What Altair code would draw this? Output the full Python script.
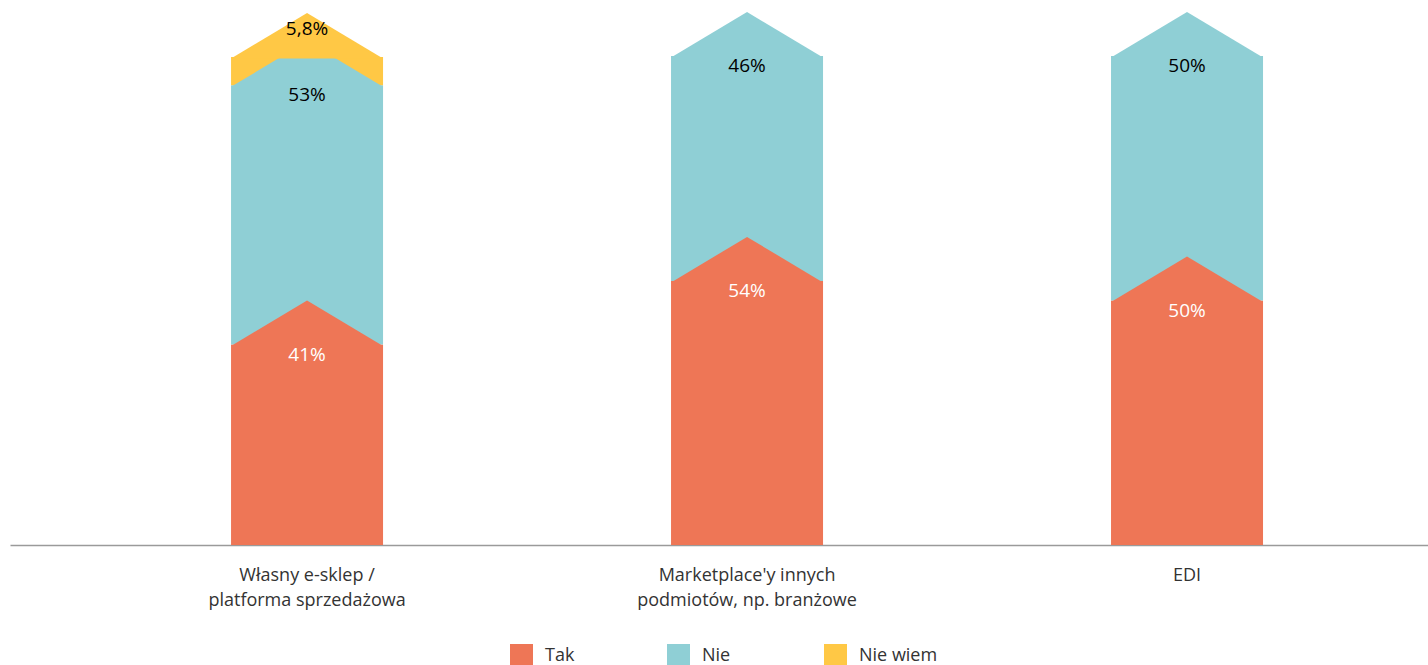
import altair as alt
import pandas as pd

categories = [
    "Własny e-sklep /\nplatforma sprzedażowa",
    "Marketplace'y innych\npodmiotów, np. branżowe",
    "EDI",
]
series = ["Tak", "Nie", "Nie wiem"]
tak = [41, 54, 50]
nie = [53, 46, 50]
nie_wiem = [5.8, 0, 0]
colors = ["#EE7656", "#8FCFD5", "#FFC845"]

rows = []
for i, cat in enumerate(categories):
    start = 0
    for k, (s, vals) in enumerate(zip(series, [tak, nie, nie_wiem])):
        v = vals[i]
        if v <= 0:
            continue
        rows.append(dict(cat=cat, series=s, start=start, end=start + v, value=v,
                         label=f"{v:g}".replace(".", ",") + "%",
                         z=len(series) - k))
        start += v
df = pd.DataFrame(rows).sort_values("z", ascending=False)

FONT = "Open Sans"

x = alt.X(
    "cat:N", sort=categories, title=None,
    scale=alt.Scale(paddingInner=0, paddingOuter=0.1114, align=0.786),
    axis=alt.Axis(labelAngle=0, labelExpr="split(datum.label, '\\n')",
                  domainColor="#9a9a9a", domainWidth=1.5, ticks=False, tickSize=0,
                  labelFontSize=18, labelFont=FONT, labelColor="#333333",
                  labelPadding=30, labelLineHeight=25, labelBaseline="middle",
                  labelLimit=400),
)
y_scale = alt.Scale(domain=[0, 100], nice=False, zero=True)

base = alt.Chart(df)

bars = base.mark_bar(size=152).encode(
    x=x,
    y=alt.Y("start:Q", scale=y_scale, axis=None),
    y2="end:Q",
    color=alt.Color(
        "series:N",
        scale=alt.Scale(domain=series, range=colors),
        legend=alt.Legend(title=None, orient="none", legendX=500, legendY=588,
                          direction="horizontal", columns=3, symbolType="square",
                          symbolSize=529, symbolStrokeWidth=0, symbolOpacity=1,
                          labelFontSize=18, labelFont=FONT, labelColor="#333333",
                          labelOffset=12, columnPadding=43, gridAlign="all",
                          padding=0),
    ),
)

tri = base.mark_point(
    shape="M -1 0.02 L 0 -0.579 L 1 0.02 Z", size=23104, filled=True,
    opacity=1, strokeWidth=0,
).encode(
    x=x,
    y=alt.Y("end:Q", scale=y_scale, axis=None),
    color=alt.Color("series:N", scale=alt.Scale(domain=series, range=colors), legend=None),
    order=alt.Order("z:Q", sort="descending"),
)

txt_color = alt.condition(alt.datum.series == "Tak", alt.value("white"), alt.value("black"))

labels_big = base.transform_filter(alt.datum.value >= 10).mark_text(
    fontSize=19, font=FONT, dy=10, baseline="middle"
).encode(
    x=x, y=alt.Y("end:Q", scale=y_scale, axis=None), text="label:N", color=txt_color
)
labels_small = base.transform_filter(alt.datum.value < 10).mark_text(
    fontSize=19, font=FONT, dy=-28, baseline="middle"
).encode(
    x=x, y=alt.Y("end:Q", scale=y_scale, axis=None), text="label:N", color=txt_color
)

chart = alt.layer(bars, tri, labels_big, labels_small).properties(
    width=1418, height=489,
    autosize=alt.AutoSizeParams(type="none"),
    padding={"left": 10, "top": 56, "right": 0, "bottom": 120},
).configure_view(stroke=None)

chart.save("out.html", embed_options={"renderer": "svg", "actions": False})
